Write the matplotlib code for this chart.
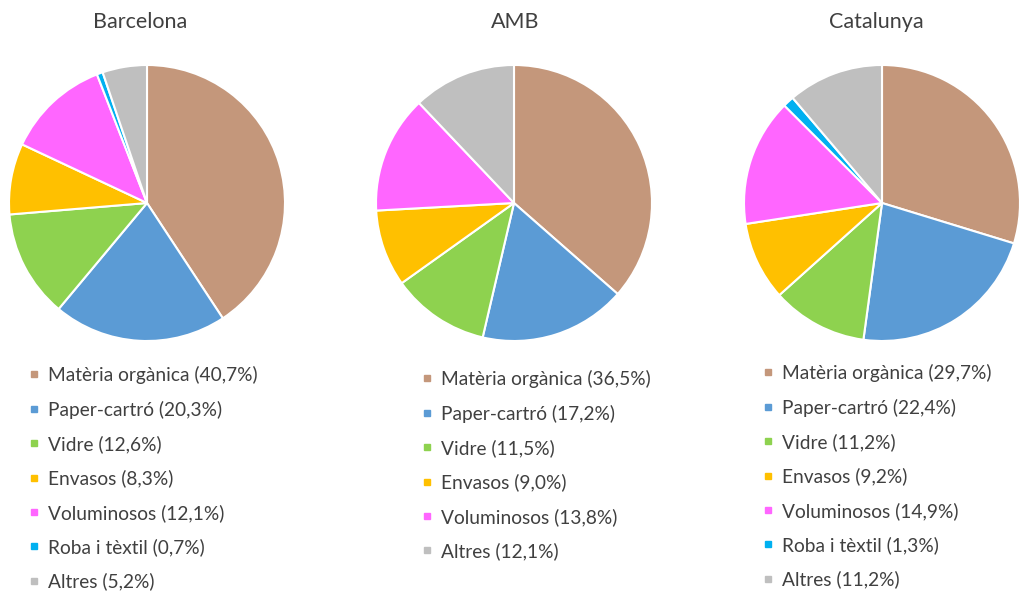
import matplotlib
matplotlib.use('Agg')
import matplotlib.pyplot as plt
from matplotlib.lines import Line2D

plt.rcParams['font.family'] = ['Lato', 'DejaVu Sans']

# dades
titols = ['Barcelona', 'AMB', 'Catalunya']
fraccions_bcn = ['Matèria orgànica', 'Paper-cartró', 'Vidre', 'Envasos', 'Voluminosos', 'Roba i tèxtil', 'Altres']
valors_bcn = [40.7, 20.3, 12.6, 8.3, 12.1, 0.7, 5.2]
fraccions_amb = ['Matèria orgànica', 'Paper-cartró', 'Vidre', 'Envasos', 'Voluminosos', 'Altres']
valors_amb = [36.5, 17.2, 11.5, 9.0, 13.8, 12.1]
fraccions_cat = ['Matèria orgànica', 'Paper-cartró', 'Vidre', 'Envasos', 'Voluminosos', 'Roba i tèxtil', 'Altres']
valors_cat = [29.7, 22.4, 11.2, 9.2, 14.9, 1.3, 11.2]

colors = {'Matèria orgànica': '#C4977B', 'Paper-cartró': '#5B9BD5', 'Vidre': '#8ED24F',
          'Envasos': '#FFC000', 'Voluminosos': '#FF66FF', 'Roba i tèxtil': '#00B0F0',
          'Altres': '#BFBFBF'}

W, H = 1019, 596
fig = plt.figure(figsize=(W / 100, H / 100), dpi=100)
fig.patch.set_facecolor('white')

# centre x del pastís, radi, posició de títols i llegendes (px des de dalt-esquerra)
centres = [147, 514, 882]
cy, r = 203, 138
titol_x = [140, 515, 876]
llegendes = [(27, 366), (420, 370), (761, 364)]

grups = [(fraccions_bcn, valors_bcn), (fraccions_amb, valors_amb), (fraccions_cat, valors_cat)]

for i, (noms, vals) in enumerate(grups):
    cx = centres[i]
    ax = fig.add_axes([(cx - r) / W, (H - cy - r) / H, 2 * r / W, 2 * r / H])
    ax.pie(vals, colors=[colors[n] for n in noms], startangle=90, counterclock=False,
           wedgeprops=dict(edgecolor='white', linewidth=1.5))
    ax.set_xlim(-1, 1)
    ax.set_ylim(-1, 1)
    fig.text(titol_x[i] / W, 1 - 22 / H, titols[i], ha='center', va='center', fontsize=15.5, color='#404040')

    handles = [Line2D([], [], marker='s', linestyle='none', markersize=5,
                      markerfacecolor=colors[n], markeredgecolor=colors[n]) for n in noms]
    etiquetes = [f"{n} ({v:.1f}%)".replace('.', ',') for n, v in zip(noms, vals)]
    lx, ly = llegendes[i]
    fig.legend(handles, etiquetes, loc='upper left', bbox_to_anchor=(lx / W, 1 - ly / H),
               frameon=False, fontsize=13.8, labelcolor='#404040', handlelength=0.7,
               handletextpad=0.4, labelspacing=0.86, borderaxespad=0, borderpad=0)

fig.savefig('out.png', dpi=100, facecolor='white')
